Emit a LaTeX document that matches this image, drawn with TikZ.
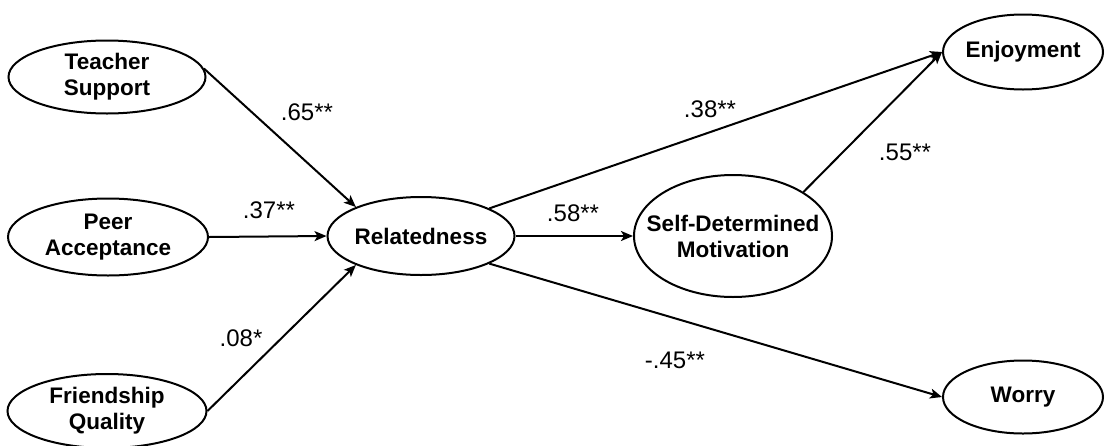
\documentclass[tikz,border=0pt]{standalone}
\usepackage{fontspec}
\setmainfont{Liberation Sans}
\usetikzlibrary{shapes.geometric,arrows.meta}
\tikzset{
  nodetext/.style={font=\fontsize{22.5}{26}\selectfont\bfseries, align=center, inner sep=0pt},
  latent/.style n args={3}{ellipse, draw, line width=2pt, minimum width=#1, minimum height=#2, inner sep=0pt, label={[nodetext]center:#3}},
  path/.style={line width=2pt, -{Stealth[length=12pt,width=10pt,inset=3pt]}},
  coef/.style={font=\fontsize{24}{26}\selectfont, inner sep=0pt, anchor=center},
}
\begin{document}
\begin{tikzpicture}[x=1pt,y=-1pt]
\useasboundingbox (0,0) rectangle (1105,445);
\node[latent={197pt}{73pt}{Teacher\\Support}] (TS) at (107,77) {};
\node[latent={200pt}{77pt}{Peer\\Acceptance}] (PA) at (108,237) {};
\node[latent={199pt}{74pt}{Friendship\\Quality}] (FQ) at (107,411) {};
\node[latent={187pt}{78pt}{Relatedness}] (R) at (421,236) {};
\node[latent={198pt}{122pt}{Self-Determined\\Motivation}] (SDM) at (733,236) {};
\node[latent={160pt}{75pt}{Enjoyment}] (EN) at (1023,52) {};
\node[latent={160pt}{73pt}{Worry}] (WO) at (1023,397) {};

\draw[path] (TS.5) -- (R.156);
\draw[path] (PA.east) -- (R.west);
\draw[path] (FQ.east) -- (R.204);
\draw[path] (R.east) -- (SDM.west);
\draw[path] (R.22) -- (EN.west);
\draw[path] (SDM.32) -- (EN.west);
\draw[path] (R.-22) -- (WO.west);

\node[coef] (c65) at (307,112) {.65**};
\node[coef] (c37) at (269,210) {.37**};
\node[coef] (c08) at (241,338) {.08*};
\node[coef] (c38) at (710,109) {.38**};
\node[coef] (c58) at (573,213) {.58**};
\node[coef] (c55) at (905,152) {.55**};
\node[coef] (c45) at (675,360) {-.45**};
\end{tikzpicture}
\end{document}
